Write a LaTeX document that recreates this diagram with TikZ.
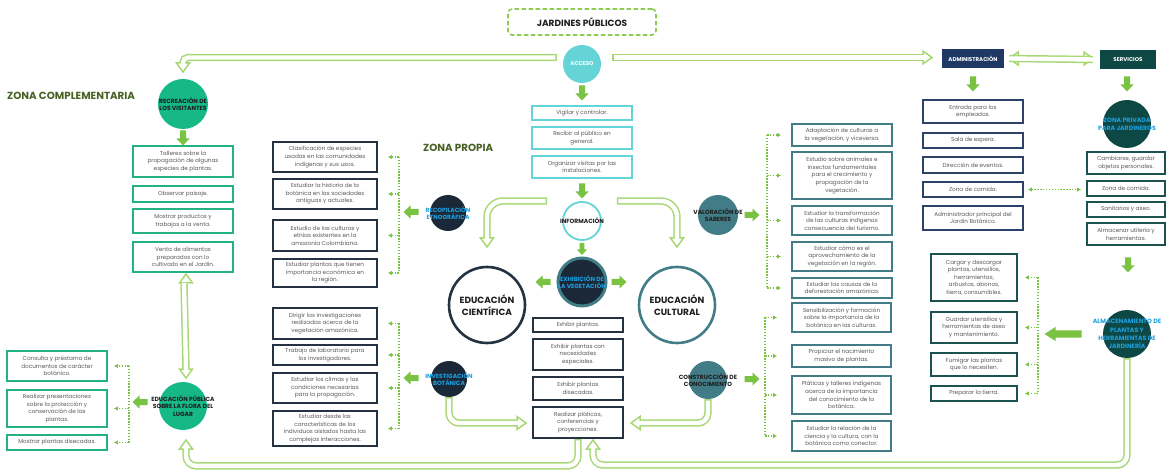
\documentclass[tikz,border=0pt]{standalone}
\usepackage{fontspec}
\setmainfont{Poppins}
\usetikzlibrary{arrows.meta,shadows}

\definecolor{lgreen}{RGB}{168,216,118}
\definecolor{bgreen}{RGB}{122,194,66}
\definecolor{titleg}{RGB}{140,205,80}
\definecolor{mint}{RGB}{22,184,134}
\definecolor{mintb}{RGB}{35,178,130}
\definecolor{cyan1}{RGB}{100,212,215}
\definecolor{navy}{RGB}{36,50,66}
\definecolor{navyf}{RGB}{27,40,55}
\definecolor{adminf}{RGB}{32,56,100}
\definecolor{adminb}{RGB}{44,66,105}
\definecolor{dteal}{RGB}{14,72,68}
\definecolor{dtealb}{RGB}{28,82,80}
\definecolor{teal1}{RGB}{66,125,135}
\definecolor{skyt}{RGB}{28,160,225}
\definecolor{olive}{RGB}{72,98,38}
\definecolor{txt}{RGB}{90,90,90}
\definecolor{ink}{RGB}{30,30,30}

\pgfdeclarelayer{bg}
\pgfsetlayers{bg,main}

\tikzset{
  box/.style={draw, line width=1.7pt, fill=white, align=center, inner sep=1pt,
    font=\fontsize{5.7}{7.6}\selectfont, text=txt,
    drop shadow={shadow xshift=1.2pt, shadow yshift=-1.2pt, opacity=.25, fill=black!40}},
  gbox/.style={box, draw=mintb},
  cbox/.style={box, draw=cyan1},
  nbox/.style={box, draw=navy},
  tbox/.style={box, draw=teal1},
  abox/.style={box, draw=adminb},
  sbox/.style={box, draw=dtealb},
  disc/.style={circle, inner sep=0pt},
  ctext/.style={align=center, inner sep=0pt, font=\bfseries\fontsize{6}{7.6}\selectfont},
  heading/.style={font=\bfseries\fontsize{10.3}{11}\selectfont, text=olive, inner sep=0pt, anchor=west},
  bigtext/.style={align=center, inner sep=0pt, text=ink, font=\bfseries\fontsize{9}{11.5}\selectfont},
  tag/.style={inner sep=0pt, text=white, font=\bfseries\fontsize{5.5}{6}\selectfont},
  hollow/.style={draw=lgreen, line width=7.4pt,
    postaction={draw=white, line width=4.4pt, shorten <=1.5pt, shorten >=-1pt}},
  hollowtwo/.style={draw=lgreen, line width=7.4pt,
    postaction={draw=white, line width=4.4pt, shorten <=-1pt, shorten >=-1pt}},
  dots/.style={draw=bgreen, line width=1.4pt, dash pattern=on 1.4pt off 1.5pt},
  dotarrow/.style={dots, -{Latex[length=4pt,width=4.5pt]}},
  dotboth/.style={dots, {Latex[length=4pt,width=4.5pt]}-{Latex[length=4pt,width=4.5pt]}},
  ohead/.pic={\filldraw[fill=white, draw=lgreen, line width=1.5pt, line join=miter]
    (0,0) -- (-9,6.5) -- (-9,-6.5) -- cycle;},
  blockarrow/.pic={\fill[bgreen] (-7.5,-3) -- (0.5,-3) -- (0.5,-6.5) -- (7.5,0)
    -- (0.5,6.5) -- (0.5,3) -- (-7.5,3) -- cycle;},
  longarrow/.pic={\fill[bgreen] (-18.5,-3.5) -- (7.5,-3.5) -- (7.5,-7) -- (18.5,0)
    -- (7.5,7) -- (7.5,3.5) -- (-18.5,3.5) -- cycle;},
}

% box from its corners: style, name, x1, y1, x2, y2, text
\newcommand\boxat[7]{\node[#1, minimum width={(#5-#3)*1pt}, minimum height={(#6-#4)*1pt}]
  (#2) at ({(#3+#5)/2},{(#4+#6)/2}) {#7};}

\begin{document}
\begin{tikzpicture}[x=1pt,y=-1pt]
\useasboundingbox (0,0) rectangle (1170,470);

% title and zone headings
\node[draw=titleg, line width=1.6pt, dash pattern=on 4.5pt off 2.5pt, rounded corners=4pt,
  minimum width=148pt, minimum height=26pt, text=ink,
  font=\bfseries\fontsize{9}{10}\selectfont] (title) at (582,22) {JARDINES PÚBLICOS};
\node[heading] (zc) at (7,96) {ZONA COMPLEMENTARIA};
\node[heading] (zp) at (423,148) {ZONA PROPIA};

% circles
\node[disc, minimum size=38pt, fill=cyan1] (acceso) at (582,64) {};
\node[tag] (acceso-t) at (acceso) {ACCESO};
\node[disc, minimum size=50pt, fill=mint] (recre) at (183,104) {};
\node[ctext, text=ink] (recre-t) at (recre) {RECREACIÓN DE\\LOS VISITANTES};
\node[disc, minimum size=48pt, fill=mint] (edpub) at (183,406) {};
\node[ctext, text=ink] (edpub-t) at (edpub) {EDUCACIÓN PÚBLICA\\SOBRE LA FLORA DEL\\LUGAR};
\node[disc, minimum size=38pt, fill=white, draw=cyan1, line width=1.8pt] (info) at (582,221) {};
\node[ctext, text=ink] (info-t) at (info) {INFORMACIÓN};
\node[disc, minimum size=36pt, fill=navyf] (recop) at (448,213) {};
\node[ctext, text=skyt] (recop-t) at (recop) {RECOPILACIÓN\\ETNOGRÁFICA};
\node[disc, minimum size=36pt, fill=navyf] (invest) at (449,379) {};
\node[ctext, text=skyt] (invest-t) at (invest) {INVESTIGACIÓN\\BOTÁNICA};
\node[disc, minimum size=48pt, fill=navyf, draw=teal1, line width=3pt] (exhib) at (582,282) {};
\node[ctext, text=skyt] (exhib-t) at (exhib) {EXHIBICIÓN DE\\LA VEGETACIÓN};
\node[disc, minimum size=76pt, fill=white, draw=navy, line width=2.6pt] (edcien) at (487,305) {};
\node[bigtext] (edcien-t) at (edcien) {EDUCACIÓN\\CIENTÍFICA};
\node[disc, minimum size=76pt, fill=white, draw=teal1, line width=2.6pt] (edcult) at (677,305) {};
\node[bigtext] (edcult-t) at (edcult) {EDUCACIÓN\\CULTURAL};
\node[disc, minimum size=40pt, fill=teal1] (valor) at (718,215) {};
\node[ctext, text=ink] (valor-t) at (valor) {VALORACIÓN DE\\SABERES};
\node[disc, minimum size=38pt, fill=teal1] (constr) at (708,380) {};
\node[ctext, text=ink] (constr-t) at (constr) {CONSTRUCCIÓN DE\\CONOCIMIENTO};
\node[disc, minimum size=48pt, fill=dteal] (zpriv) at (1127,124) {};
\node[ctext, text=skyt, font=\bfseries\fontsize{6.2}{8}\selectfont] (zpriv-t) at (zpriv)
  {ZONA PRIVADA\\PARA JARDINEROS};
\node[disc, minimum size=48pt, fill=dteal] (almac) at (1127,334) {};
\node[ctext, text=skyt, font=\bfseries\fontsize{6.2}{8.2}\selectfont] (almac-t) at (almac)
  {ALMACENAMIENTO DE\\PLANTAS Y\\HERRAMIENTAS DE\\JARDINERÍA};

% header boxes on the right
\node[tag, fill=adminf, minimum width=62pt, minimum height=19pt] (admin) at (973,58.5) {ADMINISTRACIÓN};
\node[tag, fill=dteal, minimum width=56pt, minimum height=19pt] (serv) at (1128,59.5) {SERVICIOS};

% zona complementaria
\boxat{gbox}{talleres}{133}{146}{233}{177}{Talleres sobre la\\propagación de algunas\\especies de plantas.}
\boxat{gbox}{paisaje}{133}{186}{233}{202}{Observar paisaje.}
\boxat{gbox}{mostrar}{133}{209}{233}{233}{Mostrar productos y\\trabajos a la venta.}
\boxat{gbox}{venta}{133}{242}{233}{272}{Venta de alimentos\\preparados con lo\\cultivado en el Jardín.}
\boxat{gbox}{consulta}{7}{351}{107}{381}{Consulta y préstamo de\\documentos de carácter\\botánico.}
\boxat{gbox}{presenta}{7}{390}{107}{427}{Realizar presentaciones\\sobre la protección y\\conservación de las\\plantas.}
\boxat{gbox}{disecA}{7}{435}{107}{450}{Mostrar plantas disecadas.}

% recopilación etnográfica
\boxat{nbox}{clasif}{273}{142}{377}{172}{Clasificación de especies\\usadas en las comunidades\\indígenas y sus usos.}
\boxat{nbox}{historia}{273}{179}{377}{209}{Estudiar la historia de la\\botánica en las sociedades\\antiguas y actuales.}
\boxat{nbox}{culturas}{273}{220}{377}{251}{Estudio de las culturas y\\etnias existentes en la\\amazonia Colombiana.}
\boxat{nbox}{economica}{273}{259}{377}{287}{Estudiar plantas que tienen\\importancia económica en\\la región.}

% investigación botánica
\boxat{nbox}{dirigir}{273}{308}{377}{339}{Dirigir las investigaciones\\realizadas acerca de la\\vegetación amazónica.}
\boxat{nbox}{labor}{273}{345}{377}{365}{Trabajo de laboratorio para\\los investigadores.}
\boxat{nbox}{climas}{273}{373}{377}{403}{Estudiar los climas y las\\condiciones necesarias\\para la propagación.}
\boxat{nbox}{individuos}{273}{411}{377}{446}{Estudiar desde las\\características de los\\individuos aislados hasta las\\complejas interacciones.}

% acceso
\boxat{cbox}{vigilar}{532}{106}{632}{120}{Vigilar y controlar.}
\boxat{cbox}{recibir}{532}{127}{632}{149}{Recibir al público en\\general.}
\boxat{cbox}{organizar}{532}{156}{632}{178}{Organizar visitas por las\\instalaciones.}

% exhibición
\boxat{nbox}{exhibir}{533}{318}{623}{332}{Exhibir plantas.}
\boxat{nbox}{especiales}{533}{339}{623}{370}{Exhibir plantas con\\necesidades\\especiales.}
\boxat{nbox}{disecB}{533}{377}{623}{400}{Exhibir plantas\\disecadas.}
\boxat{nbox}{realizar}{533}{407}{623}{438}{Realizar pláticas,\\conferencias y\\proyecciones.}

% valoración de saberes
\boxat{tbox}{adapta}{792}{124}{892}{146}{Adaptación de culturas a\\la vegetación, y viceversa.}
\boxat{tbox}{animales}{792}{152}{892}{199}{Estudio sobre animales e\\insectos fundamentales\\para el crecimiento y\\propagación de la\\vegetación.}
\boxat{tbox}{transf}{792}{206}{892}{235}{Estudiar la transformación\\de las culturas indígenas\\consecuencia del turismo.}
\boxat{tbox}{aprov}{792}{242}{892}{271}{Estudiar cómo es el\\aprovechamiento de la\\vegetación en la región.}
\boxat{tbox}{causas}{792}{278}{892}{298}{Estudiar las causas de la\\deforestación amazónica.}

% construcción de conocimiento
\boxat{tbox}{sensib}{792}{303}{891}{332}{Sensibilización y formación\\sobre la importancia de la\\botánica en las culturas.}
\boxat{tbox}{propiciar}{792}{345}{891}{367}{Propiciar el nacimiento\\masivo de plantas.}
\boxat{tbox}{platicas}{792}{376}{891}{414}{Pláticas y talleres indígenas\\acerca de la importancia\\del conocimiento de la\\botánica.}
\boxat{tbox}{relacion}{792}{421}{891}{451}{Estudiar la relación de la\\ciencia y la cultura, con la\\botánica como conector.}

% administración
\boxat{abox}{entrada}{923}{100}{1023}{123}{Entrada para los\\empleados.}
\boxat{abox}{sala}{923}{133}{1023}{148}{Sala de espera.}
\boxat{abox}{direccion}{923}{157}{1023}{173}{Dirección de eventos.}
\boxat{abox}{azona}{923}{182}{1023}{197}{Zona de comida.}
\boxat{abox}{adminp}{923}{206}{1023}{230}{Administrador principal del\\Jardín Botánico.}

% servicios
\boxat{sbox}{cambiarse}{1087}{152}{1165}{174}{Cambiarse, guardar\\objetos personales.}
\boxat{sbox}{szona}{1087}{181}{1165}{196}{Zona de comida.}
\boxat{sbox}{sanitarios}{1087}{202}{1165}{217}{Sanitarios y aseo.}
\boxat{sbox}{almacenar}{1087}{223}{1165}{245}{Almacenar utilería y\\herramientas.}

% almacenamiento
\boxat{sbox}{cargar}{931}{254}{1017}{301}{Cargar y descargar\\plantas, utensilios,\\herramientas,\\arbustos, abonos,\\tierra, consumibles.}
\boxat{sbox}{guardar}{931}{312}{1017}{343}{Guardar utensilios y\\herramientas de aseo\\y  mantenimiento.}
\boxat{sbox}{fumigar}{931}{353}{1017}{376}{Fumigar las plantas\\que lo necesiten.}
\boxat{sbox}{preparar}{931}{386}{1017}{401}{Preparar la tierra.}

% solid green arrows
\pic[rotate=-90] at (582,93) {blockarrow};
\pic[rotate=-90] at (582,191) {blockarrow};
\pic[rotate=-90, scale=.8] at (582,249) {blockarrow};
\pic[rotate=180] at (543,282) {blockarrow};
\pic at (619,282) {blockarrow};
\pic[rotate=-90] at (183,138) {blockarrow};
\pic[rotate=180] at (140,402) {blockarrow};
\pic[rotate=180] at (411,212) {blockarrow};
\pic[rotate=180] at (411,378) {blockarrow};
\pic at (752,215) {blockarrow};
\pic at (752,379) {blockarrow};
\pic[rotate=-90] at (973,84) {blockarrow};
\pic[rotate=-90] at (1127,84) {blockarrow};
\pic[rotate=-90] at (1128,265) {blockarrow};
\pic[rotate=180] at (1063,334) {longarrow};

% dotted brackets
\draw[dots] ([xshift=21pt]consulta.east) -- ([xshift=21pt]disecA.east);
\foreach \b in {consulta,presenta,disecA}
  \draw[dotarrow, shorten >=6pt] ([xshift=21pt]\b.east) -- (\b.east);
\draw[dots] ([xshift=21pt]clasif.east) -- ([xshift=21pt]economica.east);
\foreach \b in {clasif,historia,culturas,economica}
  \draw[dotarrow, shorten >=10pt] ([xshift=21pt]\b.east) -- (\b.east);
\draw[dots] ([xshift=21pt]dirigir.east) -- ([xshift=21pt]individuos.east);
\foreach \b in {dirigir,labor,climas,individuos}
  \draw[dotarrow, shorten >=10pt] ([xshift=21pt]\b.east) -- (\b.east);
\draw[dots] ([xshift=-24pt]adapta.west) -- ([xshift=-24pt]causas.west);
\foreach \b in {adapta,animales,transf,aprov,causas}
  \draw[dotarrow, shorten >=10pt] ([xshift=-24pt]\b.west) -- (\b.west);
\draw[dots] ([xshift=-26pt]sensib.west) -- ([xshift=-26pt]relacion.west);
\foreach \b in {sensib,propiciar,platicas,relacion}
  \draw[dotarrow, shorten >=14pt] ([xshift=-26pt]\b.west) -- (\b.west);
\draw[dots] ([xshift=20pt]cargar.east) -- ([xshift=20pt]preparar.east);
\foreach \b in {cargar,guardar,fumigar,preparar}
  \draw[dotarrow, shorten >=7pt] ([xshift=20pt]\b.east) -- (\b.east);
\draw[dotboth, shorten <=4pt, shorten >=5pt] (azona.east) -- (azona.east -| szona.west);

% outlined connectors, under the nodes
\begin{pgfonlayer}{bg}
\coordinate (recreIn) at (183,63);
\coordinate (adminIn) at (923,57.5);
\coordinate (cienIn) at (487,238);
\coordinate (cultIn) at (677,238);
\coordinate (realL) at (517,423);
\coordinate (realR) at (640,423);
\coordinate (pubIn) at (186,449);
\coordinate (realIn) at (593,449);

\pic[rotate=-90] at (183,72) {ohead};
\pic at (932,57.5) {ohead};
\pic[rotate=180] at (1009,58.5) {ohead};
\pic at (1093,58.5) {ohead};
\pic[rotate=90] at (186,274) {ohead};
\pic[rotate=-90] at (186,378) {ohead};
\pic[rotate=-90] at (487,247) {ohead};
\pic[rotate=-90] at (677,247) {ohead};
\pic at (526,423) {ohead};
\pic[rotate=180] at (631,423) {ohead};
\pic[rotate=90] at (186,440) {ohead};
\pic[rotate=90] at (593,440) {ohead};

\draw[hollow, rounded corners=5pt] ([xshift=-6pt, yshift=6.5pt]acceso.west) -| (recreIn);
\draw[hollow] ([xshift=11pt, yshift=6.5pt]acceso.east) -- (adminIn);
\draw[hollowtwo] ([xshift=5pt]admin.east) -- ([xshift=-7pt]serv.west);
\draw[hollowtwo] ([xshift=1pt, yshift=-11pt]venta.south) -- ([xshift=3pt, yshift=13pt]edpub.north);
\draw[hollow, rounded corners=16pt] ([xshift=-15pt, yshift=20pt]info.west) -| (cienIn);
\draw[hollow, rounded corners=16pt] ([xshift=15pt, yshift=20pt]info.east) -| (cultIn);
\draw[hollow, rounded corners=10pt] (invest.south) |- (realL);
\draw[hollow, rounded corners=10pt] (constr.south) |- (realR);
\draw[hollow, rounded corners=10pt] (realizar.south) -- ++(0,27) -| (pubIn);
\draw[hollow, rounded corners=10pt] (almac.south) -- (1127,465) -| (realIn);
\end{pgfonlayer}
\end{tikzpicture}
\end{document}
